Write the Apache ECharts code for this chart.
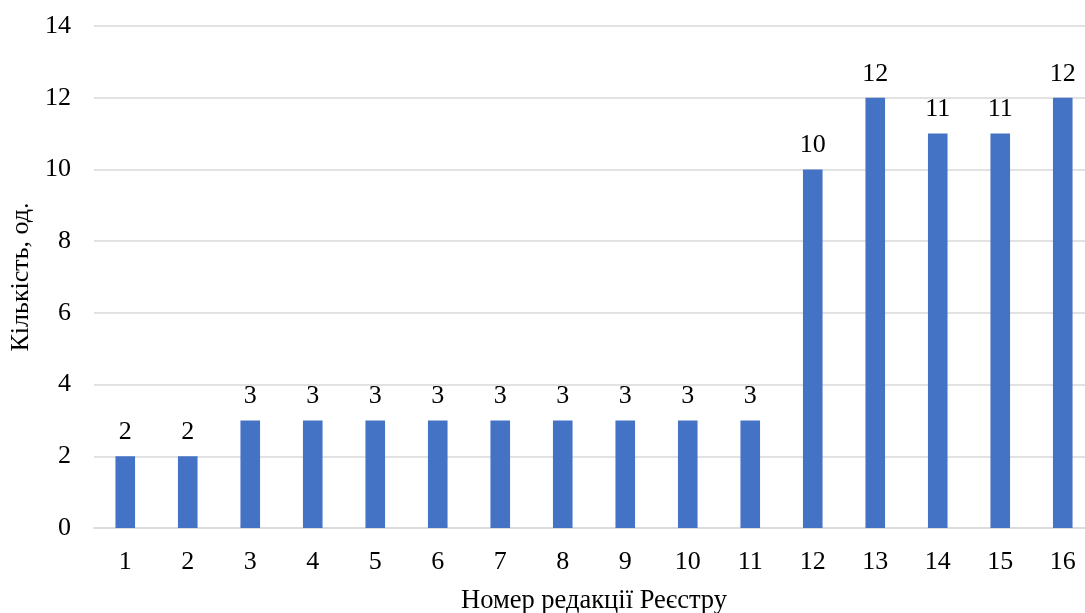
<!DOCTYPE html>
<html>
<head>
<meta charset="utf-8">
<script src="https://cdn.jsdelivr.net/npm/echarts@6/dist/echarts.min.js"></script>
<style>
html,body{margin:0;padding:0;background:#fff;}
#chart{width:1085px;height:613px;}
</style>
</head>
<body>
<div id="chart"></div>
<script>
const categories = ['1','2','3','4','5','6','7','8','9','10','11','12','13','14','15','16'];
const values = [2,2,3,3,3,3,3,3,3,3,3,10,12,11,11,12];
const xAxisTitle = 'Номер редакції Реєстру';
const yAxisTitle = 'Кількість, од.';

const FONT = '"Liberation Serif", "Times New Roman", serif';
const chart = echarts.init(document.getElementById('chart'), null, {renderer:'canvas'});
chart.setOption({
  animation: false,
  grid: {left: 94, width: 1000, top: 26, height: 502, containLabel: false, outerBoundsMode: 'none'},
  xAxis: {
    type: 'category',
    data: categories,
    name: xAxisTitle,
    nameLocation: 'middle',
    nameGap: 60,
    nameTextStyle: {fontFamily: FONT, fontSize: 26.5, color: '#000'},
    axisLine: {lineStyle: {color: '#D9D9D9', width: 1.5}},
    axisTick: {show: false},
    axisLabel: {fontFamily: FONT, fontSize: 26, color: '#000', margin: 21}
  },
  yAxis: {
    type: 'value',
    min: 0, max: 14, interval: 2,
    name: yAxisTitle,
    nameLocation: 'middle',
    nameGap: 58,
    nameTextStyle: {fontFamily: FONT, fontSize: 26, color: '#000'},
    axisLine: {show: false},
    axisTick: {show: false},
    splitLine: {lineStyle: {color: '#D9D9D9', width: 1.5}},
    axisLabel: {fontFamily: FONT, fontSize: 26, color: '#000', margin: 23}
  },
  series: [{
    type: 'bar',
    data: values,
    barWidth: 19.6,
    itemStyle: {color: '#4472C4'},
    label: {show: true, position: 'top', distance: 11, fontFamily: FONT, fontSize: 26, color: '#000'}
  }]
});
</script>
</body>
</html>
